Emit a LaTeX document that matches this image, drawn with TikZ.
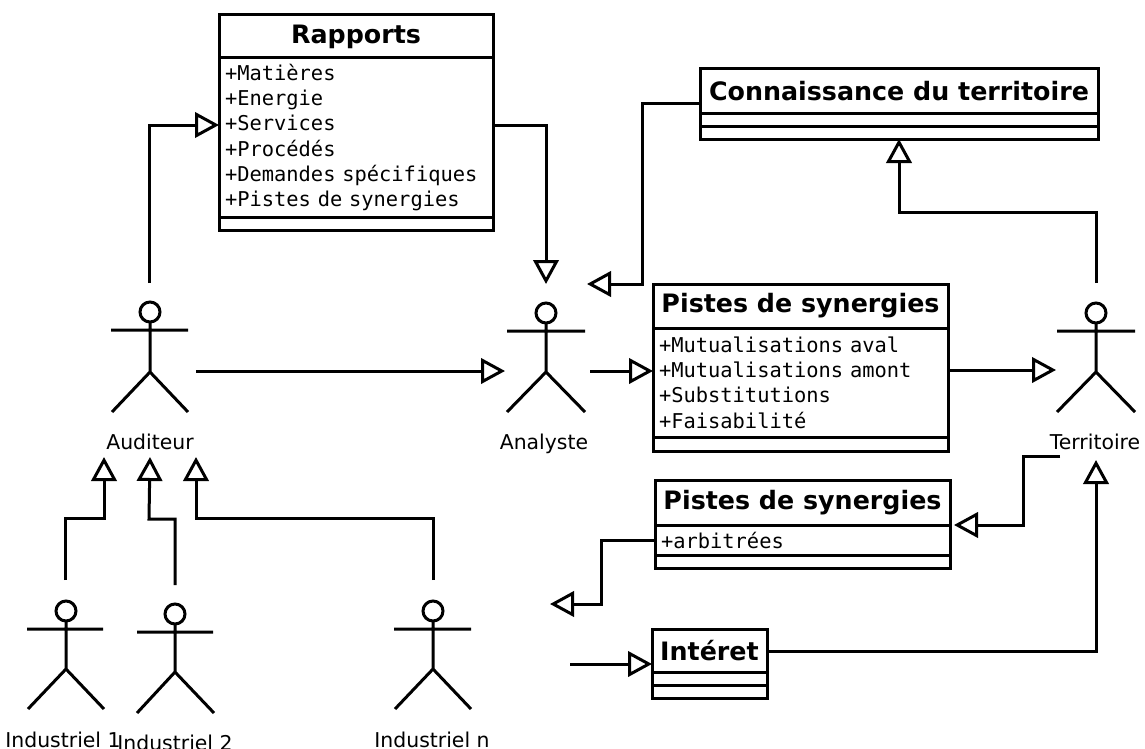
\documentclass[tikz,border=0pt]{standalone}
\usepackage{fontspec}
\setmainfont{DejaVu Sans}
\setmonofont{DejaVu Sans Mono}
\usetikzlibrary{arrows.meta}
\tikzset{
	classtitle/.style={draw,line width=2.25pt,outer sep=0pt,inner sep=0pt,anchor=north west,font=\fontsize{19}{22}\selectfont\bfseries},
	classattr/.style={draw,line width=2.25pt,outer sep=0pt,inner xsep=4.5pt,inner ysep=0pt,anchor=north west,align=left,font=\fontsize{15.3}{19}\selectfont\ttfamily},
	classops/.style={draw,line width=2.25pt,outer sep=0pt,inner sep=0pt,anchor=north west},
	actorhead/.style={draw,circle,line width=2.25pt,minimum size=15pt,inner sep=0pt,outer sep=0pt},
	actorline/.style={line width=2.25pt},
	actorlabel/.style={anchor=base,inner sep=0.75pt,font=\fontsize{15.3}{18}\selectfont},
	gener/.style={line width=2.25pt,-{Triangle[open,fill=white,length=18pt,width=19pt]}}
}
\begin{document}
\begin{tikzpicture}[x=0.75pt,y=0.75pt,yscale=-1,xscale=1]
	\useasboundingbox (0,0) rectangle (1145,749);
	% classes
	\draw (219,15) node [classtitle,minimum width=205.5pt,minimum height=32.25pt] (rapports) {Rapports};
	\draw (rapports.south west) node [classattr,text width=196.5pt,minimum height=119.25pt] (rapportsAttr) {+Matières\\+Energie\\+Services\\+Procédés\\+Demandes spécifiques\\+Pistes de synergies};
	\draw (rapportsAttr.south west) node [classops,minimum width=205.5pt,minimum height=9.75pt] (rapportsOps) {};
	\draw (700,69) node [classtitle,minimum width=298.5pt,minimum height=33pt] (connaissance) {Connaissance du territoire};
	\draw (connaissance.south west) node [classops,minimum width=298.5pt,minimum height=9.75pt] (connaissanceAttr) {};
	\draw (connaissanceAttr.south west) node [classops,minimum width=298.5pt,minimum height=9.75pt] (connaissanceOps) {};
	\draw (653,284) node [classtitle,minimum width=221.25pt,minimum height=33pt] (pistes) {Pistes de synergies};
	\draw (pistes.south west) node [classattr,text width=212.25pt,minimum height=81.75pt] (pistesAttr) {+Mutualisations aval\\+Mutualisations amont\\+Substitutions\\+Faisabilité};
	\draw (pistesAttr.south west) node [classops,minimum width=221.25pt,minimum height=10.5pt] (pistesOps) {};
	\draw (655,480) node [classtitle,minimum width=221.25pt,minimum height=33.75pt] (arbitrees) {Pistes de synergies};
	\draw (arbitrees.south west) node [classattr,text width=212.25pt,minimum height=22.5pt] (arbitreesAttr) {+arbitrées};
	\draw (arbitreesAttr.south west) node [classops,minimum width=221.25pt,minimum height=9.75pt] (arbitreesOps) {};
	\draw (652,629) node [classtitle,minimum width=86.25pt,minimum height=32.25pt] (interet) {Intéret};
	\draw (interet.south west) node [classops,minimum width=86.25pt,minimum height=9.75pt] (interetAttr) {};
	\draw (interetAttr.south west) node [classops,minimum width=86.25pt,minimum height=9.75pt] (interetOps) {};
	% actors
	\draw (150,312) node [actorhead] (auditeur) {};
	\draw [actorline] (auditeur.south) -- (150,372) (111,330) -- (188,330) (112,412) -- (150,372) -- (188,412);
	\draw (150,449) node [actorlabel] (auditeurLabel) {Auditeur};
	\draw (546,313) node [actorhead] (analyste) {};
	\draw [actorline] (analyste.south) -- (546,372) (507,331) -- (585,331) (507,412) -- (546,372) -- (585,412);
	\draw (544,449) node [actorlabel] (analysteLabel) {Analyste};
	\draw (1096,313) node [actorhead] (territoire) {};
	\draw [actorline] (territoire.south) -- (1096,372) (1057,331) -- (1135,331) (1057,412) -- (1096,372) -- (1135,412);
	\draw (1095,449) node [actorlabel] (territoireLabel) {Territoire};
	\draw (66,611) node [actorhead] (industrielA) {};
	\draw [actorline] (industrielA.south) -- (66,669) (27,629) -- (103,629) (28,709) -- (66,669) -- (104,709);
	\draw (63,747) node [actorlabel] (industrielALabel) {Industriel 1};
	\draw (175,614) node [actorhead] (industrielB) {};
	\draw [actorline] (industrielB.south) -- (175,672) (137,632) -- (213,632) (137,713) -- (175,672) -- (214,713);
	\draw (175,750) node [actorlabel] (industrielBLabel) {Industriel 2};
	\draw (433,611) node [actorhead] (industrielN) {};
	\draw [actorline] (industrielN.south) -- (433,669) (394,629) -- (471,629) (395,709) -- (433,669) -- (471,709);
	\draw (432,747) node [actorlabel] (industrielNLabel) {Industriel n};
	% free ends
	\coordinate (auditeurN) at (149,283);
	\coordinate (auditeurE) at (196,371);
	\coordinate (analysteN) at (546,284);
	\coordinate (analysteW) at (505,371);
	\coordinate (analysteE) at (590,371);
	\coordinate (analysteNE) at (587,284);
	\coordinate (territoireN) at (1096,283);
	\coordinate (territoireW) at (1056,370);
	\coordinate (territoireSW) at (1060,456);
	\coordinate (territoireS) at (1096,460);
	\coordinate (arbitreesE) at (954,525);
	\coordinate (arbitreesOut) at (550,604);
	\coordinate (interetIn) at (570,664);
	\coordinate (industrielAN) at (65,580);
	\coordinate (industrielBN) at (175,585);
	\coordinate (industrielNN) at (433,580);
	\coordinate (auditeurSA) at (104,457);
	\coordinate (auditeurSB) at (150,457);
	\coordinate (auditeurSC) at (196,457);
	% connectors
	\draw [gener] (auditeurN) |- (rapportsAttr.west |- 0,125);
	\draw [gener] (rapportsAttr.east |- 0,125) -| (analysteN);
	\draw [gener] (connaissance.west |- 0,103) -- (642,103) |- (analysteNE);
	\draw [gener] (territoireN) |- (connaissanceOps.south |- 0,212) -- (connaissanceOps.south);
	\draw [gener] (auditeurE) -- (analysteW);
	\draw [gener] (analysteE) -- (pistesAttr.west |- analysteE);
	\draw [gener] (pistesAttr.east |- territoireW) -- (territoireW);
	\draw [gener] (territoireSW) -- (1023,456) |- (arbitreesE);
	\draw [gener] (arbitreesAttr.west |- 0,540) -- (601,540) |- (arbitreesOut);
	\draw [gener] (interetAttr.east |- 0,651) -| (territoireS);
	\draw [gener] (interetIn) -- (interet.west |- interetIn);
	\draw [gener] (industrielAN) |- (104,518) -- (auditeurSA);
	\draw [gener] (industrielBN) |- (149,519) -- (auditeurSB);
	\draw [gener] (industrielNN) |- (196,518) -- (auditeurSC);
\end{tikzpicture}
\end{document}
